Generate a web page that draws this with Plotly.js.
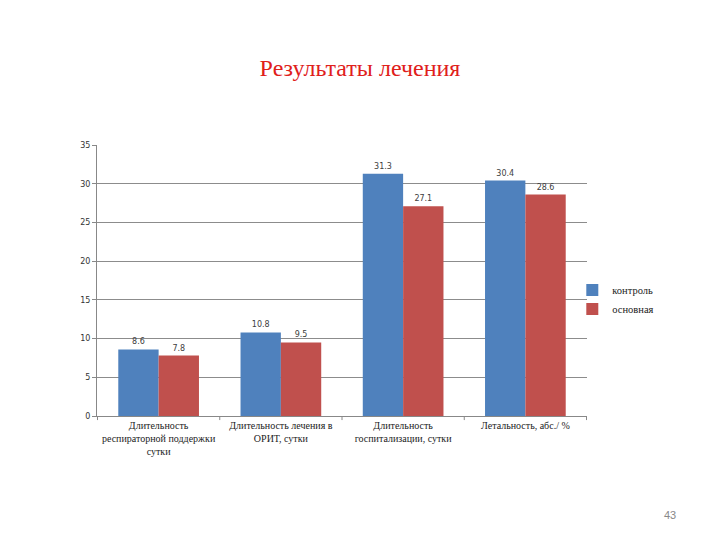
<!DOCTYPE html>
<html>
<head>
<meta charset="utf-8">
<script src="https://cdn.plot.ly/plotly-3.0.1.min.js"></script>
<style>
  html, body { margin: 0; padding: 0; background: #fff; }
  #plot { width: 720px; height: 540px; }
</style>
</head>
<body>
<div id="plot"></div>
<script>
const categories = [
    'Длительность<br>респираторной поддержки<br>сутки',
    'Длительность лечения в<br>ОРИТ, сутки',
    'Длительность<br>госпитализации, сутки',
    'Летальность, абс./ %'
];
const controlValues = [8.6, 10.8, 31.3, 30.4];
const mainValues = [7.8, 9.5, 27.1, 28.6];
const yTicks = [0, 5, 10, 15, 20, 25, 30, 35];

const serif = 'Liberation Serif';
const labelFont = { family: 'DejaVu Sans', size: 8, color: '#404040' };

const traces = [
    {
        type: 'bar',
        name: 'контроль',
        x: categories,
        y: controlValues,
        marker: { color: '#4F81BD' },
        text: controlValues.map(v => v.toFixed(1)),
        textposition: 'outside',
        textfont: labelFont,
        cliponaxis: false
    },
    {
        type: 'bar',
        name: 'основная',
        x: categories,
        y: mainValues,
        marker: { color: '#C0504D' },
        text: mainValues.map(v => v.toFixed(1)),
        textposition: 'outside',
        textfont: labelFont,
        cliponaxis: false
    }
];

const layout = {
    width: 720,
    height: 540,
    paper_bgcolor: '#fff',
    plot_bgcolor: '#fff',
    margin: { l: 97, r: 133, t: 145, b: 124 },
    font: { family: serif },
    title: {
        text: 'Результаты лечения',
        font: { family: serif, size: 24, color: '#E0201B' },
        x: 0.5,
        xanchor: 'center',
        y: 0.875,
        yanchor: 'middle'
    },
    barmode: 'group',
    bargap: 0.34,
    bargroupgap: 0,
    showlegend: true,
    legend: {
        x: 0.97,
        xanchor: 'left',
        y: 0.43,
        yanchor: 'middle',
        font: { family: serif, size: 10.5, color: '#222' },
        itemwidth: 30,
        tracegroupgap: 0,
        bgcolor: 'rgba(0,0,0,0)'
    },
    xaxis: {
        type: 'category',
        showgrid: false,
        showline: true,
        linecolor: '#888',
        linewidth: 1,
        ticks: '',
        tickfont: { family: serif, size: 10, color: '#222' },
        fixedrange: true
    },
    yaxis: {
        range: [0, 35],
        tickvals: yTicks,
        showgrid: true,
        gridcolor: '#8c8c8c',
        gridwidth: 1,
        showline: true,
        linecolor: '#888',
        linewidth: 1,
        ticks: 'outside',
        ticklen: 4,
        tickcolor: '#888',
        tickfont: { family: 'DejaVu Sans', size: 8, color: '#333' },
        zeroline: false,
        fixedrange: true
    },
    annotations: [
        {
            text: '43',
            xref: 'paper', yref: 'paper',
            x: (670 - 97) / 490, y: -(515 - 416) / 271,
            xanchor: 'center', yanchor: 'middle',
            showarrow: false,
            font: { family: 'Liberation Sans', size: 11, color: '#888' }
        }
    ]
};

// category separator ticks on the x axis
const shapes = [];
for (let i = 0; i <= categories.length; i++) {
    shapes.push({
        type: 'line',
        xref: 'x', yref: 'paper',
        x0: i - 0.5, x1: i - 0.5,
        y0: 0, y1: -0.015,
        line: { color: '#888', width: 1 }
    });
}
layout.shapes = shapes;

Plotly.newPlot('plot', traces, layout, { displayModeBar: false, staticPlot: true });
</script>
</body>
</html>
